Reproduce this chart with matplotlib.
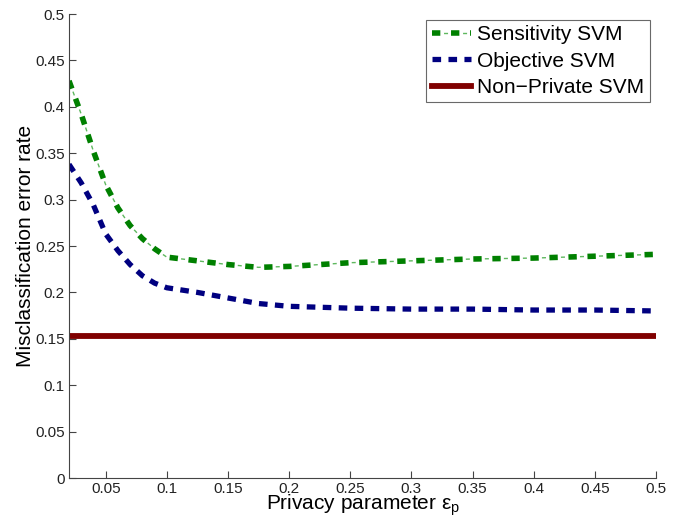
"""Misclassification error of private SVM variants vs. the privacy parameter."""

import matplotlib

matplotlib.use("Agg")
import matplotlib.pyplot as plt

# privacy parameter values
eps = [0.02, 0.03, 0.04, 0.05, 0.06, 0.07, 0.08, 0.09, 0.10, 0.125, 0.15,
       0.175, 0.20, 0.25, 0.30, 0.35, 0.40, 0.45, 0.50]

# error rates
sensitivity_svm = [0.428, 0.392, 0.352, 0.316, 0.291, 0.272, 0.258, 0.247,
                   0.238, 0.234, 0.230, 0.227, 0.228, 0.232, 0.234, 0.236,
                   0.237, 0.239, 0.241]
objective_svm = [0.338, 0.318, 0.294, 0.263, 0.245, 0.230, 0.218, 0.210,
                 0.205, 0.200, 0.194, 0.188, 0.185, 0.183, 0.182, 0.182,
                 0.181, 0.181, 0.180]
non_private_svm = [0.153] * len(eps)

yticks = [0, 0.05, 0.1, 0.15, 0.2, 0.25, 0.3, 0.35, 0.4, 0.45, 0.5]
xticks = [0.05, 0.1, 0.15, 0.2, 0.25, 0.3, 0.35, 0.4, 0.45, 0.5]

GREEN = "#008000"
BLUE = "#000080"
RED = "#800000"

plt.rcParams["font.family"] = ["Liberation Sans", "DejaVu Sans"]
plt.rcParams["mathtext.fontset"] = "custom"
plt.rcParams["mathtext.rm"] = "Liberation Sans"
plt.rcParams["mathtext.it"] = "Liberation Sans"
plt.rcParams["lines.scale_dashes"] = False  # dash lengths in points


def main() -> None:
    fig = plt.figure(figsize=(6.82, 5.27), dpi=100)
    ax = fig.add_axes([69 / 682, 1 - 478 / 527, (656 - 69) / 682, (478 - 14) / 527])

    # dash-dot: thick dashes with a thin short stroke centred in each gap
    sens_thick, = ax.plot(eps, sensitivity_svm, color=GREEN, lw=4.0,
                          linestyle=(0, (6.0, 7.7)))
    sens_thin, = ax.plot(eps, sensitivity_svm, color="#5fb85f", lw=1.0,
                         linestyle=(5.4, (2.9, 10.8)))
    obj, = ax.plot(eps, objective_svm, color=BLUE, lw=3.8,
                   linestyle=(0, (6.2, 5.3)))
    nonpriv, = ax.plot(eps, non_private_svm, color=RED, lw=4.2)

    ax.set_xlim(0.02, 0.5)
    ax.set_ylim(0, 0.5)
    ax.set_xticks(xticks)
    ax.set_xticklabels([f"{t:g}" for t in xticks])
    ax.set_yticks(yticks)
    ax.set_yticklabels([f"{t:g}" for t in yticks])

    for side in ("top", "right"):
        ax.spines[side].set_visible(False)
    for side in ("left", "bottom"):
        ax.spines[side].set_color("#444444")
    ax.tick_params(direction="in", length=5, width=0.8, color="#444444",
                   labelsize=11, labelcolor="#222222", pad=3)

    ax.set_xlabel(r"Privacy parameter $\varepsilon_\mathrm{p}$", fontsize=15,
                  labelpad=-3)
    ax.set_ylabel("Misclassification error rate", fontsize=15, labelpad=0.5)

    leg = ax.legend([(sens_thick, sens_thin), obj, nonpriv],
                    ["Sensitivity SVM", "Objective SVM", "Non\u2212Private SVM"],
                    loc="upper right", fontsize=15, frameon=True,
                    fancybox=False, handlelength=1.9, handletextpad=0.3,
                    borderpad=0.25, labelspacing=0.35, borderaxespad=0.3)
    leg.get_frame().set_edgecolor("#444444")
    leg.get_frame().set_linewidth(0.8)

    fig.savefig("out.png", dpi=100)


if __name__ == "__main__":
    main()
